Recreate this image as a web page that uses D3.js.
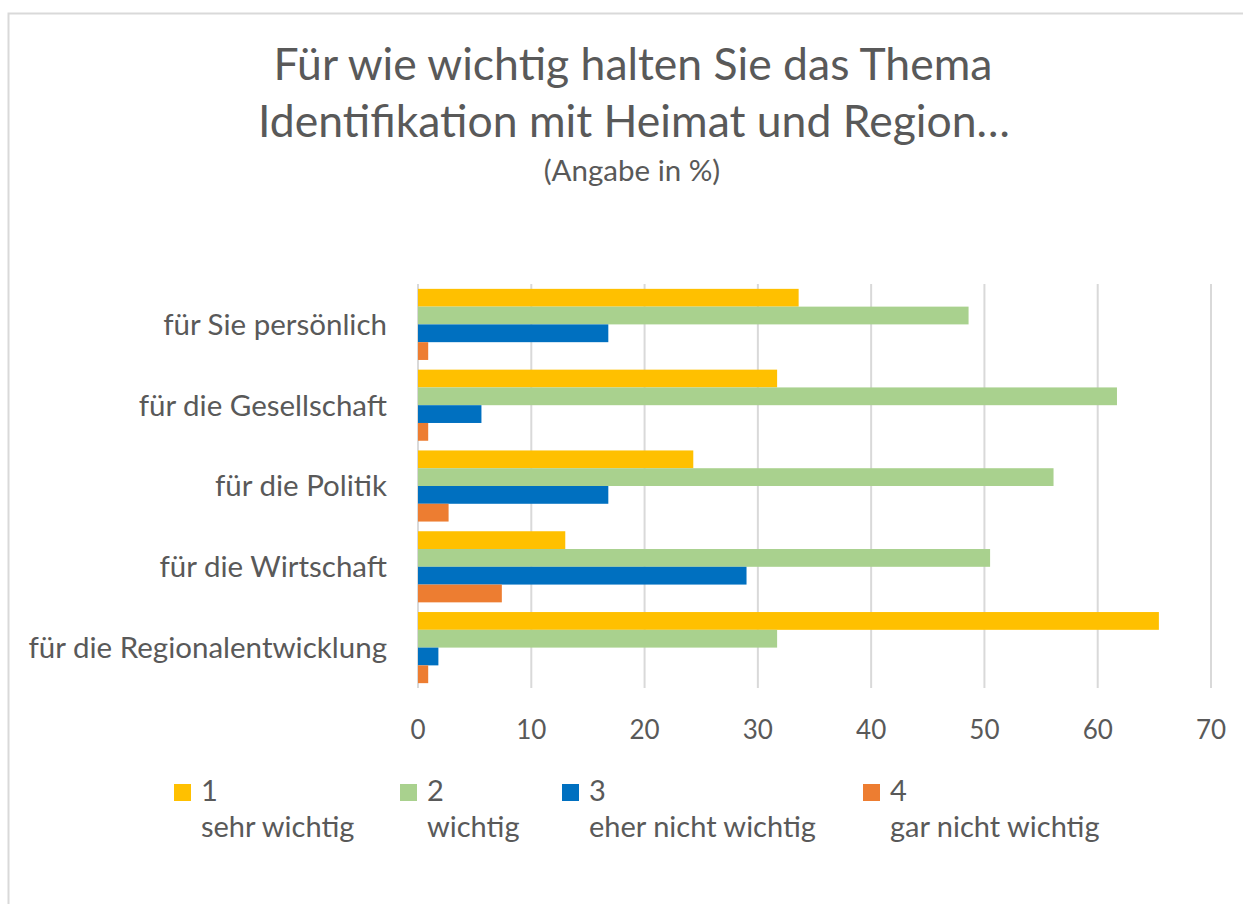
<!DOCTYPE html>
<html>
<head>
<meta charset="utf-8">
<script src="https://cdn.jsdelivr.net/npm/d3@7"></script>
<style>
  body { margin: 0; background: #fff; }
  text { font-family: Lato, "Open Sans", sans-serif; fill: #595959; }
</style>
</head>
<body>
<svg id="chart" width="1243" height="904"></svg>
<script>
// data
var categories = ["für Sie persönlich", "für die Gesellschaft", "für die Politik", "für die Wirtschaft", "für die Regionalentwicklung"];
var seriesNames = ["1", "2", "3", "4"];
var seriesLabels = ["sehr wichtig", "wichtig", "eher nicht wichtig", "gar nicht wichtig"];
var seriesColors = ["#FFC000", "#A9D18E", "#0070C0", "#ED7D31"];
var sehrWichtig = [33.6, 31.7, 24.3, 13.0, 65.4];
var wichtig = [48.6, 61.7, 56.1, 50.5, 31.7];
var eherNicht = [16.8, 5.6, 16.8, 29.0, 1.8];
var garNicht = [0.9, 0.9, 2.7, 7.4, 0.9];
var xTicks = [0, 10, 20, 30, 40, 50, 60, 70];

var values = [sehrWichtig, wichtig, eherNicht, garNicht];

var chart = d3.select("#chart");

// frame
chart.append("rect")
  .attr("x", 8.5).attr("y", 13.5)
  .attr("width", 1400).attr("height", 1000)
  .style("fill", "#fff")
  .style("stroke", "#D9D9D9")
  .style("stroke-width", 2);

// title
chart.append("text")
  .attr("x", 633).attr("y", 80)
  .attr("text-anchor", "middle")
  .style("font-size", "44.5px")
  .text("Für wie wichtig halten Sie das Thema");
chart.append("text")
  .attr("x", 634).attr("y", 137)
  .attr("text-anchor", "middle")
  .style("font-size", "44.5px")
  .text("Identifikation mit Heimat und Region…");
chart.append("text")
  .attr("x", 632).attr("y", 181)
  .attr("text-anchor", "middle")
  .style("font-size", "29.5px")
  .text("(Angabe in %)");

var x = d3.scaleLinear().domain([0, 70]).range([418, 1211]);

var y0 = d3.scaleBand()
  .domain(categories)
  .range([284, 688])
  .paddingInner(0.12)
  .paddingOuter(0.06);

var y1 = d3.scaleBand()
  .domain(seriesNames)
  .range([0, y0.bandwidth()]);

// gridlines
chart.append("g")
  .selectAll("line")
  .data(xTicks)
  .enter().append("line")
  .attr("x1", function(d) { return x(d); })
  .attr("x2", function(d) { return x(d); })
  .attr("y1", 284)
  .attr("y2", 688)
  .style("stroke", "#D9D9D9")
  .style("stroke-width", 2);

// tick labels
chart.append("g")
  .selectAll("text")
  .data(xTicks)
  .enter().append("text")
  .attr("x", function(d) { return x(d); })
  .attr("y", 739)
  .attr("text-anchor", "middle")
  .style("font-size", "26px")
  .text(function(d) { return d; });

// category labels
chart.append("g")
  .selectAll("text")
  .data(categories)
  .enter().append("text")
  .attr("x", 387)
  .attr("y", function(d) { return y0(d) + y0.bandwidth() / 2; })
  .attr("dy", "0.35em")
  .attr("text-anchor", "end")
  .style("font-size", "29.5px")
  .text(function(d) { return d; });

// bars
var groups = chart.append("g")
  .selectAll("g")
  .data(categories)
  .enter().append("g")
  .attr("transform", function(d) { return "translate(0," + y0(d) + ")"; });

groups.selectAll("rect")
  .data(function(d, i) {
    return seriesNames.map(function(s, j) {
      return { series: s, value: values[j][i], color: seriesColors[j] };
    });
  })
  .enter().append("rect")
  .attr("x", x(0))
  .attr("y", function(d) { return y1(d.series); })
  .attr("width", function(d) { return x(d.value) - x(0); })
  .attr("height", y1.bandwidth())
  .style("fill", function(d) { return d.color; });

// legend
var legendX = [174, 400, 562, 863];
var legend = chart.append("g")
  .selectAll("g")
  .data(seriesNames)
  .enter().append("g")
  .attr("transform", function(d, i) { return "translate(" + legendX[i] + ",0)"; });

legend.append("rect")
  .attr("x", 0).attr("y", 784)
  .attr("width", 17).attr("height", 17)
  .style("fill", function(d, i) { return seriesColors[i]; });

legend.append("text")
  .attr("x", 27).attr("y", 801)
  .style("font-size", "29px")
  .text(function(d) { return d; });

legend.append("text")
  .attr("x", 27).attr("y", 837)
  .style("font-size", "29px")
  .text(function(d, i) { return seriesLabels[i]; });
</script>
</body>
</html>
